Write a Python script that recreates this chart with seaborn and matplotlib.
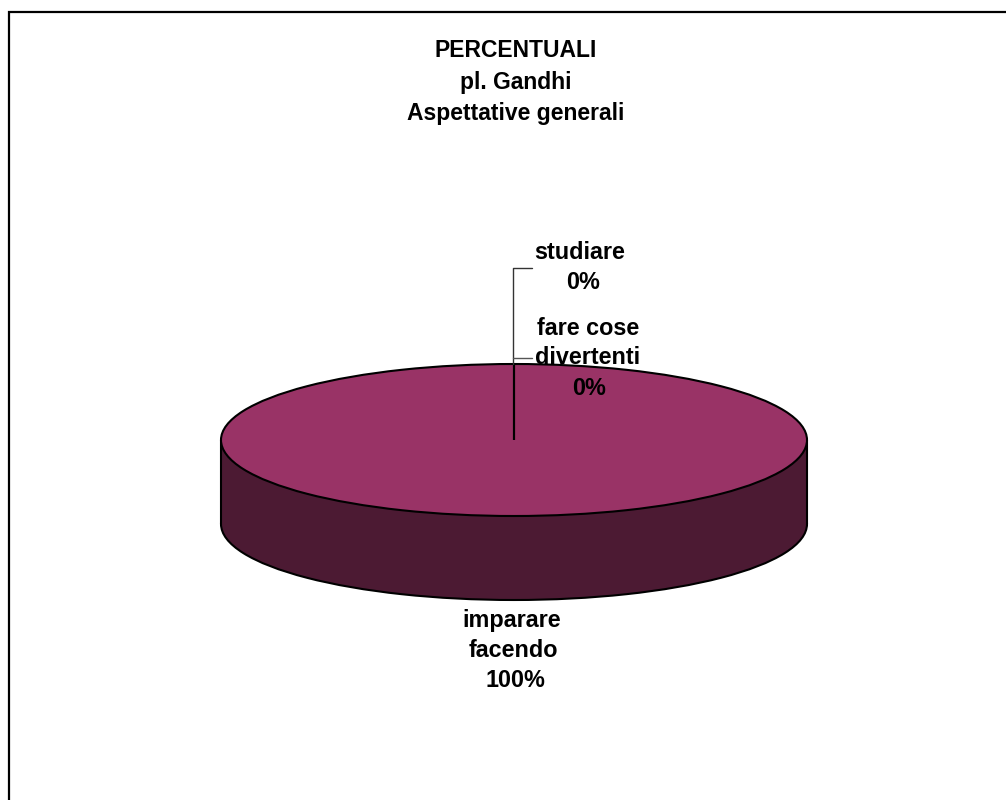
import numpy as np
import matplotlib
matplotlib.use("Agg")
import matplotlib.pyplot as plt
import seaborn as sns

categories = ["imparare\nfacendo", "studiare", "fare cose\ndivertenti"]
values = [100, 0, 0]
title_lines = ["PERCENTUALI", "pl. Gandhi", "Aspettative generali"]
top_colors = ["#993366", "#993366", "#993366"]
side_color = "#4C1A33"

W, H = 1006, 800
sns.set_theme(style="white")
plt.rcParams["font.family"] = ["Liberation Sans", "DejaVu Sans"]

fig = plt.figure(figsize=(W / 100, H / 100), dpi=100, facecolor="white")

# whole figure in pixel coords, for frame, text and leader lines
bg = fig.add_axes([0, 0, 1, 1])
bg.set_xlim(0, W)
bg.set_ylim(H, 0)
bg.axis("off")
# frame only shows on the left and top, the rest is cropped away
bg.plot([9, 9, W], [H, 12, 12], color="black", lw=1.6, solid_joinstyle="miter")

# pie axes, ellipse squashed by switching off the equal aspect
cx, cy, rx, ry, depth = 514, 440, 293, 76, 84
pie_ax = fig.add_axes([(cx - rx - 4) / W, 1 - (cy + ry + depth + 4) / H,
                       (2 * rx + 8) / W, (2 * ry + depth + 8) / H])
pie_ax.patch.set_alpha(0)

edge = dict(edgecolor="black", linewidth=1.5)
d = depth / ry
pie_ax.pie([1], colors=[side_color], radius=1, center=(0, -d), startangle=0, wedgeprops=dict(edgecolor="black", linewidth=1.5))
pie_ax.fill_between([-1, 1], [-d, -d], [0, 0], color=side_color, lw=0, zorder=3)
pie_ax.plot([-1, -1], [-d, 0], color="black", lw=1.5, zorder=4)
pie_ax.plot([1, 1], [-d, 0], color="black", lw=1.5, zorder=4)
wedges, _ = pie_ax.pie(values, colors=top_colors, radius=1, center=(0, 0), startangle=90,
                       counterclock=False, wedgeprops=edge)
for w in wedges:
    w.set_zorder(5)
pie_ax.set_aspect("auto")
pie_ax.set_xlim(-1 - 4 / rx, 1 + 4 / rx)
pie_ax.set_ylim(-1 - d - 4 / ry, 1 + 4 / ry)

# leader lines
line_ax = fig.add_axes([0, 0, 1, 1])
line_ax.set_xlim(0, W)
line_ax.set_ylim(H, 0)
line_ax.axis("off")
line_ax.plot([513, 513, 532], [364, 268, 268], color="#333333", lw=1)
line_ax.plot([513, 532], [358, 358], color="#555555", lw=1)

# title
for line, y in zip(title_lines, [57, 89, 120]):
    line_ax.text(516, y, line, ha="center", va="baseline", fontsize=16.5, fontweight="bold", color="black")

# slice labels
lab_font = dict(ha="center", va="baseline", fontsize=16.8, fontweight="bold", color="black")
line_ax.text(580, 259, categories[1], **lab_font)
line_ax.text(583, 289, f"{values[1]}%", **lab_font)
cat2 = categories[2].split("\n")
line_ax.text(588, 335, cat2[0], **lab_font)
line_ax.text(588, 364, cat2[1], **lab_font)
line_ax.text(589, 395, f"{values[2]}%", **lab_font)
cat0 = categories[0].split("\n")
line_ax.text(512, 627, cat0[0], **lab_font)
line_ax.text(513, 657, cat0[1], **lab_font)
line_ax.text(515, 687, f"{values[0]}%", **lab_font)

fig.savefig("out.png", dpi=100)
